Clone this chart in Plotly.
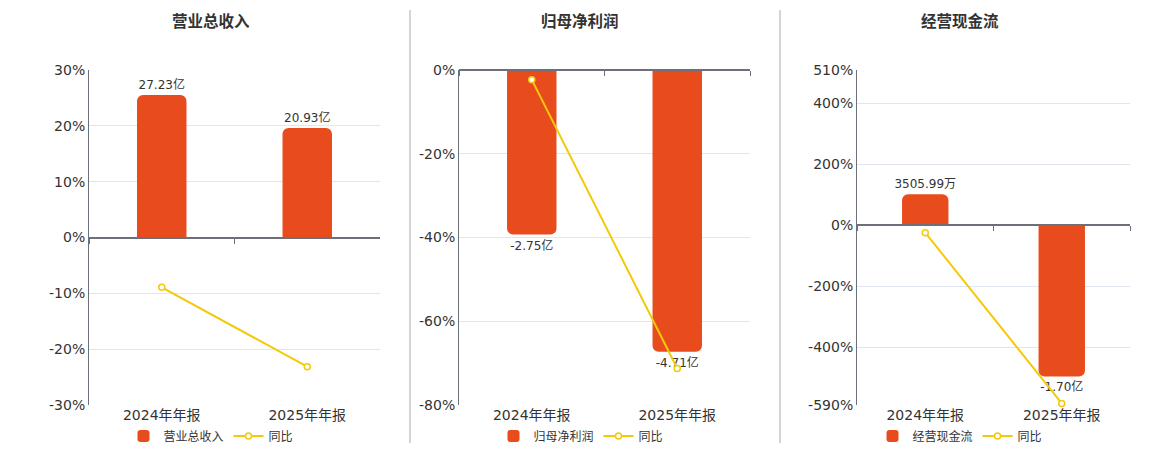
import plotly.graph_objects as go

categories = ["2024年年报", "2025年年报"]

titles = ["营业总收入", "归母净利润", "经营现金流"]

revenue = [27.23, 20.93]
revenue_text = ["27.23亿", "20.93亿"]
revenue_yoy = [-8.93, -23.14]

profit = [-2.75, -4.71]
profit_text = ["-2.75亿", "-4.71亿"]
profit_yoy = [-2.3, -71.27]

cashflow = [0.3506, -1.70]
cashflow_text = ["3505.99万", "-1.70亿"]
cashflow_yoy = [-24.0, -585.0]

pct_ticks_1 = [30, 20, 10, 0, -10, -20, -30]
pct_ticks_2 = [0, -20, -40, -60, -80]
pct_ticks_3 = [510, 400, 200, 0, -200, -400, -590]

BAR_COLOR = "#E84C1D"
LINE_COLOR = "#F3C90B"
FONT = "DejaVu Sans, Noto Sans CJK SC"
W, H = 1160, 450

def px_x(v):
    return v / W

def px_y(v):
    return 1 - v / H

ydom = [px_y(405), px_y(70)]

panels = [
    dict(vals=revenue, text=revenue_text, yoy=revenue_yoy, ticks=pct_ticks_1,
         prange=[-30, 30], brange=[-32, 32], xdom=[89, 380], legx=211, title_x=211),
    dict(vals=profit, text=profit_text, yoy=profit_yoy, ticks=pct_ticks_2,
         prange=[-80, 0], brange=[-5.6, 0], xdom=[459, 750], legx=581, title_x=580),
    dict(vals=cashflow, text=cashflow_text, yoy=cashflow_yoy, ticks=pct_ticks_3,
         prange=[-590, 510], brange=[-2.022, 1.748], xdom=[857, 1130], legx=960, title_x=960),
]

fig = go.Figure()
layout = dict(
    template="none",
    width=W, height=H, margin=dict(l=0, r=0, t=0, b=0, pad=0, autoexpand=False),
    paper_bgcolor="white", plot_bgcolor="rgba(0,0,0,0)",
    font=dict(family=FONT, color="#333333"),
    showlegend=True, shapes=[], annotations=[],
)

def key(a):
    return a.replace("x", "xaxis").replace("y", "yaxis")

for i, p in enumerate(panels):
    xa_main = f"x{2*i+1}"
    xa_zero = f"x{2*i+2}"
    ya_bar = f"y{2*i+1}"
    ya_pct = f"y{2*i+2}"
    leg = "legend" if i == 0 else f"legend{i+1}"

    xd = [px_x(p["xdom"][0]), px_x(p["xdom"][1])]
    zero_frac = (0 - p["prange"][0]) / (p["prange"][1] - p["prange"][0])
    zero_pos = ydom[0] + zero_frac * (ydom[1] - ydom[0])

    layout[key(xa_main)] = dict(
        domain=xd, anchor=ya_bar, type="category",
        categoryorder="array", categoryarray=categories,
        showline=False, showgrid=False, zeroline=False, ticks="",
        tickfont=dict(size=14, color="#333333"), range=[-0.5, 1.5],
        automargin=False,
    )
    layout[key(xa_zero)] = dict(
        overlaying=xa_main, anchor="free", position=zero_pos,
        type="category", categoryorder="array", categoryarray=categories,
        range=[-0.5, 1.5], showticklabels=False, showgrid=False, zeroline=False,
        showline=True, linecolor="#6E7079", linewidth=2,
        ticks="outside", tickson="boundaries", ticklen=5, tickcolor="#6E7079",
        tickwidth=1, automargin=False,
    )
    layout[key(ya_bar)] = dict(
        domain=ydom, anchor=xa_main, range=p["brange"],
        showticklabels=False, showgrid=False, zeroline=False, showline=False,
        ticks="", automargin=False,
    )
    layout[key(ya_pct)] = dict(
        overlaying=ya_bar, anchor=xa_main, side="left", range=p["prange"],
        tickvals=p["ticks"], ticktext=[f"{t}%" for t in p["ticks"]],
        showline=True, linecolor="#6E7079", linewidth=1,
        showgrid=True, gridcolor="#E0E6F1", gridwidth=1,
        zeroline=False, ticks="", tickfont=dict(size=14, color="#333333"),
        automargin=False,
    )

    fig.add_trace(go.Bar(
        x=categories, y=p["vals"], text=p["text"], textposition="outside",
        textfont=dict(size=12, color="#333333"), cliponaxis=False,
        constraintext="none",
        marker=dict(color=BAR_COLOR, cornerradius=6, line=dict(width=0)),
        width=0.34, name=titles[i], xaxis=xa_main, yaxis=ya_bar, legend=leg,
        hoverinfo="skip",
    ))
    fig.add_trace(go.Scatter(
        x=categories, y=p["yoy"], mode="lines+markers", name="同比",
        line=dict(color=LINE_COLOR, width=2),
        marker=dict(symbol="circle", size=6, color="white",
                    line=dict(color=LINE_COLOR, width=1.5)),
        xaxis=xa_zero, yaxis=ya_pct, legend=leg, cliponaxis=False,
    ))

    layout[leg] = dict(
        orientation="h", x=px_x(p["legx"]), xanchor="center",
        y=px_y(436), yanchor="middle", font=dict(size=12, color="#333333"),
        bgcolor="rgba(0,0,0,0)", borderwidth=0, tracegroupgap=0,
    )
    layout["annotations"].append(dict(
        text=f"<b>{titles[i]}</b>", x=px_x(p["title_x"]), y=px_y(22),
        xref="paper", yref="paper", xanchor="center", yanchor="middle",
        showarrow=False, font=dict(size=15.5, color="#333333"),
    ))

for sx in [410, 780]:
    layout["shapes"].append(dict(
        type="line", xref="paper", yref="paper",
        x0=px_x(sx), x1=px_x(sx), y0=px_y(443), y1=px_y(10),
        line=dict(color="#AAAAAA", width=1),
    ))

fig.update_layout(**layout)
fig.write_html(
    "out.html",
    config={"displayModeBar": False},
    post_script="document.body.style.margin='0px';document.body.style.overflow='hidden';",
)
